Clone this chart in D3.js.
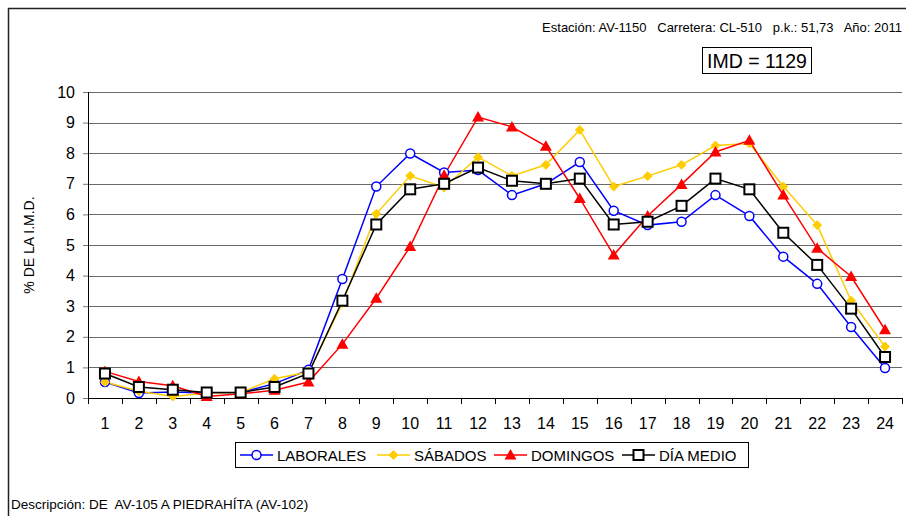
<!DOCTYPE html>
<html>
<head>
<meta charset="utf-8">
<script src="https://cdn.jsdelivr.net/npm/d3@7"></script>
<style>
  body { margin: 0; background: #fff; }
  svg { display: block; font-family: "Liberation Sans", Arial, sans-serif; }
</style>
</head>
<body>
<div id="chart"></div>
<script>
// Data
const hours = d3.range(1, 25);
const yTicks = [0, 1, 2, 3, 4, 5, 6, 7, 8, 9, 10];

const laborales = [0.52, 0.16, 0.2, 0.16, 0.18, 0.47, 0.92, 3.89, 6.91, 7.99, 7.37, 7.45,
                   6.63, 7.0, 7.71, 6.12, 5.65, 5.76, 6.63, 5.95, 4.62, 3.73, 2.32, 0.98];
const sabados = [0.52, 0.22, 0.05, 0.16, 0.18, 0.63, 0.85, 3.1, 6.02, 7.26, 6.88, 7.87,
                 7.26, 7.62, 8.76, 6.91, 7.25, 7.62, 8.25, 8.32, 6.91, 5.65, 3.18, 1.68];
const domingos = [0.87, 0.54, 0.4, 0.05, 0.14, 0.25, 0.52, 1.76, 3.26, 4.95, 7.28, 9.18,
                  8.86, 8.23, 6.52, 4.67, 5.95, 6.98, 8.04, 8.42, 6.63, 4.89, 3.97, 2.23];
const diaMedio = [0.8, 0.36, 0.27, 0.18, 0.18, 0.36, 0.8, 3.18, 5.67, 6.82, 7.0, 7.53,
                  7.1, 7.0, 7.17, 5.67, 5.76, 6.28, 7.17, 6.82, 5.4, 4.35, 2.92, 1.34];

const series = [
  {name: "LABORALES", values: laborales, color: "#0000ff", marker: "circle"},
  {name: "SÁBADOS", values: sabados, color: "#ffcc00", marker: "diamond"},
  {name: "DOMINGOS", values: domingos, color: "#ff0000", marker: "triangle"},
  {name: "DÍA MEDIO", values: diaMedio, color: "#000000", marker: "square"}
];

const W = 906, H = 516;
const margin = {top: 92, right: 4, bottom: 118, left: 88};
const width = 902 - margin.left;
const height = 398 - margin.top;

const svg = d3.select("#chart").append("svg")
    .attr("width", W)
    .attr("height", H);

// outer frame
svg.append("rect")
   .attr("x", 8.5).attr("y", 8.5)
   .attr("width", 1000).attr("height", 1000)
   .attr("fill", "none").attr("stroke", "#222").attr("stroke-width", 1.5);

// header
svg.append("text")
   .attr("x", 902).attr("y", 32)
   .attr("text-anchor", "end")
   .attr("font-size", 13)
   .attr("xml:space", "preserve")
   .text("Estación: AV-1150   Carretera: CL-510   p.k.: 51,73   Año: 2011");

svg.append("rect")
   .attr("x", 702.5).attr("y", 47.5).attr("width", 109).attr("height", 26)
   .attr("fill", "none").attr("stroke", "#000").attr("stroke-width", 1);
svg.append("text")
   .attr("x", 757).attr("y", 68)
   .attr("text-anchor", "middle")
   .attr("font-size", 19.5)
   .text("IMD = 1129");

const g = svg.append("g")
   .attr("transform", `translate(${margin.left},${margin.top})`);

// scales
const x = d3.scaleBand().domain(hours).range([0, width]);
const y = d3.scaleLinear().domain([0, 10]).range([height, 0]);
const cx = d => x(d) + x.bandwidth() / 2;

// gridlines
g.selectAll(".grid")
 .data(yTicks.filter(d => d > 0))
 .enter().append("line")
 .attr("x1", 0).attr("x2", width)
 .attr("y1", d => Math.round(y(d)) + 0.5).attr("y2", d => Math.round(y(d)) + 0.5)
 .attr("stroke", "#6a6a6a").attr("stroke-width", 1.2);

// y axis
const yAxis = g.append("g")
   .call(d3.axisLeft(y).tickValues(yTicks).tickSize(5).tickPadding(8));
yAxis.select(".domain").attr("stroke", "#000").attr("d", `M0.5,0V${height}`);
yAxis.selectAll(".tick line").attr("stroke", "#777");
yAxis.selectAll("text").attr("font-size", 16).attr("fill", "#000")
     .attr("font-family", "Liberation Sans, Arial, sans-serif");

// x axis
const xAxis = g.append("g")
   .attr("transform", `translate(0,${height})`)
   .call(d3.axisBottom(x).tickSize(0).tickPadding(20));
xAxis.select(".domain").attr("stroke", "#000").attr("d", `M0,0.5H${width}`);
xAxis.selectAll("text").attr("font-size", 16).attr("fill", "#000")
     .attr("font-family", "Liberation Sans, Arial, sans-serif");
xAxis.selectAll(".xtick")
     .data(d3.range(0, hours.length + 1))
     .enter().append("line")
     .attr("class", "xtick")
     .attr("x1", i => Math.round(i * x.bandwidth()) + 0.5)
     .attr("x2", i => Math.round(i * x.bandwidth()) + 0.5)
     .attr("y1", 0).attr("y2", 6)
     .attr("stroke", "#000");

// y axis title
svg.append("text")
   .attr("transform", "translate(34,245) rotate(-90)")
   .attr("text-anchor", "middle")
   .attr("font-size", 14)
   .text("% DE LA I.M.D.");

// marker drawing
function drawMarker(sel, type, color) {
  if (type === "circle") {
    sel.append("circle").attr("r", 4.5)
       .attr("fill", "#fff").attr("stroke", color).attr("stroke-width", 1.5);
  } else if (type === "diamond") {
    sel.append("path").attr("d", d3.symbol(d3.symbolDiamond2, 50)())
       .attr("fill", color).attr("stroke", color);
  } else if (type === "triangle") {
    sel.append("path").attr("d", "M0,-6L6,4.5L-6,4.5Z")
       .attr("fill", color);
  } else {
    sel.append("rect").attr("x", -5).attr("y", -5).attr("width", 10).attr("height", 10)
       .attr("fill", "#fff").attr("stroke", color).attr("stroke-width", 2);
  }
}

const line = d3.line().x((d, i) => cx(hours[i])).y(d => y(d));

series.forEach(s => {
  g.append("path")
   .datum(s.values)
   .attr("d", line)
   .attr("fill", "none")
   .attr("stroke", s.color)
   .attr("stroke-width", 1.5);
});
series.forEach(s => {
  g.selectAll(null)
   .data(s.values)
   .enter().append("g")
   .attr("transform", (d, i) => `translate(${cx(hours[i])},${y(d)})`)
   .each(function() { drawMarker(d3.select(this), s.marker, s.color); });
});

// legend
const legend = svg.append("g").attr("transform", "translate(235,442)");
legend.append("rect")
      .attr("x", 0.5).attr("y", 0.5).attr("width", 513).attr("height", 25)
      .attr("fill", "#fff").attr("stroke", "#000");
const legX = [5, 142, 259, 387];
series.forEach((s, i) => {
  const item = legend.append("g").attr("transform", `translate(${legX[i]},13)`);
  item.append("line").attr("x1", 0).attr("x2", 33).attr("y1", 0).attr("y2", 0)
      .attr("stroke", s.color).attr("stroke-width", 1.5);
  drawMarker(item.append("g").attr("transform", "translate(16.5,0)"), s.marker, s.color);
  item.append("text").attr("x", 37).attr("y", 6)
      .attr("font-size", 15).text(s.name);
});

// description
svg.append("text")
   .attr("x", 11).attr("y", 509)
   .attr("font-size", 13.5)
   .attr("xml:space", "preserve")
   .text("Descripción: DE  AV-105 A PIEDRAHÍTA (AV-102)");
</script>
</body>
</html>
